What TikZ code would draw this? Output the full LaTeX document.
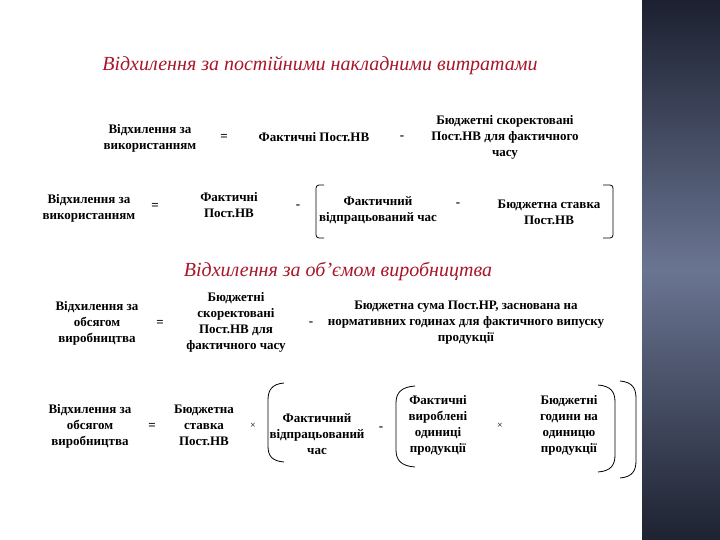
\documentclass[tikz,border=0pt]{standalone}
\usepackage{fontspec}
\setmainfont{Liberation Serif}
\definecolor{titlered}{HTML}{A8162A}
\definecolor{paneltop}{HTML}{1C2030}
\definecolor{panelmid}{HTML}{6A7592}
\definecolor{panelbot}{HTML}{1E2231}
\tikzset{
  txt/.style={align=center,inner sep=0pt,font=\bfseries\fontsize{13}{16}\selectfont,text=black},
  ttl/.style={inner sep=0pt,font=\itshape\fontsize{20}{22}\selectfont,text=titlered},
  op/.style={inner sep=0pt,font=\bfseries\fontsize{13}{14}\selectfont},
  brk/.style={draw=black,line width=0.8pt}
}
\begin{document}
\begin{tikzpicture}[x=1pt,y=-1pt]
\useasboundingbox (0,0) rectangle (720,540);
\fill[white] (0,0) rectangle (720,540);
\shade[top color=paneltop,bottom color=panelbot,middle color=panelmid] (642,0) rectangle (720,540);

% Title 1
\node[ttl] (t1) at (320,66) {Відхилення за постійними накладними витратами};

% Row 1
\node[txt] (r1a) at (150,138) {Відхилення за\\використанням};
\node[op] (r1eq) at (224,137) {=};
\node[txt] (r1b) at (314,137) {Фактичні Пост.НВ};
\node[op] (r1m) at (402,138) {-};
\node[txt] (r1c) at (505,137) {Бюджетні скоректовані\\Пост.НВ для фактичного\\часу};

% Row 2
\node[txt] (r2a) at (89,208) {Відхилення за\\використанням};
\node[op] (r2eq) at (155,206) {=};
\node[txt] (r2b) at (229,205) {Фактичні\\Пост.НВ};
\node[op] (r2m1) at (298,207) {-};
\node[txt] (r2c) at (378,210) {Фактичний\\відпрацьований час};
\node[op] (r2m2) at (458,205) {-};
\node[txt] (r2d) at (549,212) {Бюджетна ставка\\Пост.НВ};
\draw[brk,rounded corners=3pt] (324,185) -- (316,185) -- (316,238) -- (324,238);
\draw[brk,rounded corners=3pt] (603,185) -- (613,185) -- (613,238) -- (603,238);

% Title 2
\node[ttl] (t2) at (338,271) {Відхилення за об\symbol{"27}ємом виробництва};

% Row 3
\node[txt] (r3a) at (97,323) {Відхилення за\\обсягом\\виробництва};
\node[op] (r3eq) at (160,323) {=};
\node[txt] (r3b) at (236,322) {Бюджетні\\скоректовані\\Пост.НВ для\\фактичного часу};
\node[op] (r3m) at (311,324) {-};
\node[txt] (r3c) at (466,323) {Бюджетна сума Пост.НР, заснована на\\нормативних годинах для фактичного випуску\\продукції};

% Row 4
\node[txt] (r4a) at (90,426) {Відхилення за\\обсягом\\виробництва};
\node[op] (r4eq) at (152,426) {=};
\node[txt] (r4b) at (204,425) {Бюджетна\\ставка\\Пост.НВ};
\node[op] (r4x1) at (253,426) {\normalfont\fontsize{10}{11}\selectfont×};
\node[txt] (r4c) at (317,434) {Фактичний\\відпрацьований\\час};
\node[op] (r4m) at (381,429) {-};
\node[txt] (r4d) at (438,425) {Фактичні\\вироблені\\одиниці\\продукції};
\node[op] (r4x2) at (500,426) {\normalfont\fontsize{10}{11}\selectfont×};
\node[txt] (r4e) at (569,425) {Бюджетні\\години на\\одиницю\\продукції};

\draw[brk] (284,383) .. controls (272,384) and (268,390) .. (268,400) -- (268,446) .. controls (268,456) and (272,461) .. (284,462);
\draw[brk] (415,386) .. controls (401,387) and (396,393) .. (396,403) -- (396,450) .. controls (396,460) and (401,466) .. (415,467);
\draw[brk] (598,385) .. controls (611,386) and (615,392) .. (615,402) -- (615,455) .. controls (615,465) and (611,471) .. (598,472);
\draw[brk] (620,381) .. controls (632,382) and (636,388) .. (636,398) -- (636,461) .. controls (636,471) and (632,477) .. (620,478);
\end{tikzpicture}
\end{document}
